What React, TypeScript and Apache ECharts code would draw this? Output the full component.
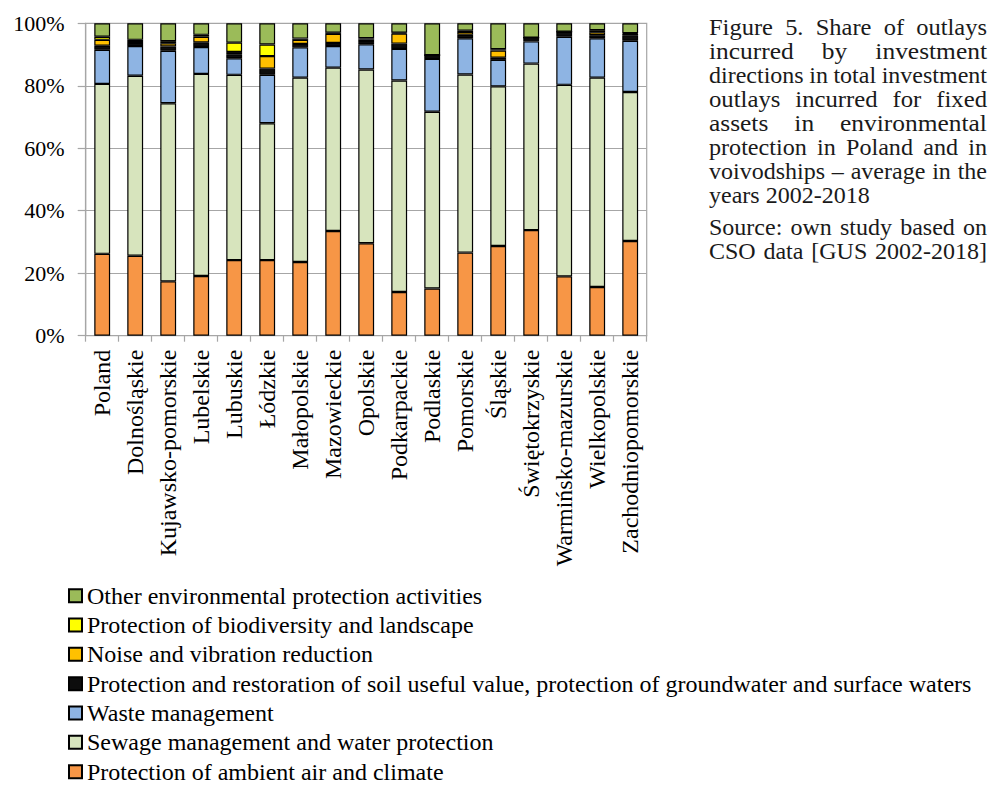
import React, { useEffect, useRef } from "react";
import * as echarts from "echarts";

// Voivodships (plus the national total) shown on the category axis
const categories = [
  "Poland",
  "Dolnośląskie",
  "Kujawsko-pomorskie",
  "Lubelskie",
  "Lubuskie",
  "Łódzkie",
  "Małopolskie",
  "Mazowieckie",
  "Opolskie",
  "Podkarpackie",
  "Podlaskie",
  "Pomorskie",
  "Śląskie",
  "Świętokrzyskie",
  "Warmińsko-mazurskie",
  "Wielkopolskie",
  "Zachodniopomorskie",
];

// Share (%) of each investment direction, bottom of the stack first
const airClimate = [26.2, 25.6, 17.4, 19.1, 24.2, 24.2, 23.6, 33.5, 29.6, 14.0, 15.1, 26.6, 28.7, 33.8, 19.0, 15.6, 30.3];
const sewageWater = [54.4, 57.6, 57.0, 64.7, 59.3, 43.8, 59.0, 52.3, 55.6, 67.7, 56.6, 57.0, 51.1, 53.3, 61.3, 67.0, 47.7];
const wasteManagement = [10.9, 9.5, 16.8, 8.6, 5.3, 15.5, 9.7, 6.9, 8.1, 10.1, 16.9, 11.6, 8.5, 7.1, 15.4, 12.6, 16.4];
const soilGroundwater = [1.3, 1.0, 1.4, 1.5, 1.3, 2.0, 1.1, 1.0, 0.7, 1.7, 1.2, 1.1, 0.7, 1.2, 1.6, 1.0, 1.8];
const noiseVibration = [1.9, 0.6, 1.0, 1.8, 0.7, 4.0, 1.3, 2.9, 0.8, 3.2, 0.0, 0.9, 2.3, 0.0, 0.0, 0.9, 0.4];
const biodiversity = [1.0, 0.4, 0.7, 0.6, 3.0, 3.7, 0.4, 0.4, 0.4, 0.3, 0.0, 0.4, 0.4, 0.0, 0.0, 0.7, 0.2];
const otherActivities = [4.3, 5.3, 5.7, 3.7, 6.2, 6.8, 4.9, 3.0, 4.8, 3.0, 10.2, 2.4, 8.3, 4.6, 2.7, 2.2, 3.2];

const seriesNames = [
  "Protection of ambient air and climate",
  "Sewage management and water protection",
  "Waste management",
  "Protection and restoration of soil useful value, protection of groundwater and surface waters",
  "Noise and vibration reduction",
  "Protection of biodiversity and landscape",
  "Other environmental protection activities",
];

// Value axis ticks
const yMin = 0;
const yMax = 100;
const yStep = 20;

// Caption printed beside the plot
const captionLines = [
  "Figure 5. Share of outlays",
  "incurred by investment",
  "directions in total investment",
  "outlays incurred for fixed",
  "assets in environmental",
  "protection in Poland and in",
  "voivodships – average in the",
  "years 2002-2018",
];
const sourceLines = ["Source: own study based on", "CSO data [GUS 2002-2018]"];

const FONT = '"Liberation Serif", "Times New Roman", serif';
const COLORS = ["#F79646", "#D7E4BD", "#8EB4E3", "#0D0D0D", "#FFC000", "#FFFF00", "#9BBB59"];

type Placed = { text: string; x: number; scaleX: number };

// Justify a line by spreading its words across the given width
function layoutLine(
  ctx: CanvasRenderingContext2D,
  line: string,
  x0: number,
  width: number,
  justify: boolean
): Placed[] {
  const words = line.split(" ");
  const widths = words.map((w) => ctx.measureText(w).width);
  const sum = widths.reduce((a, b) => a + b, 0);
  const space = ctx.measureText(" ").width;
  const gaps = words.length - 1;
  let scale = 1;
  let gap = space;
  if (justify && gaps > 0) {
    gap = (width - sum) / gaps;
    if (gap < 2.5) {
      gap = 2.5;
      scale = (width - gap * gaps) / sum;
    } else if (gap > space * 1.6) {
      scale = Math.min(1.06, 1 + ((gap - space * 1.6) * gaps * 0.3) / sum);
      gap = (width - sum * scale) / gaps;
    }
  }
  const out: Placed[] = [];
  let x = x0;
  words.forEach((w, i) => {
    out.push({ text: w, x, scaleX: scale });
    x += widths[i] * scale + gap;
  });
  return out;
}

export default function App() {
  const ref = useRef<HTMLDivElement>(null);

  useEffect(() => {
    if (!ref.current) return;
    const chart = echarts.init(ref.current, null, { renderer: "svg" });

    const canvas = document.createElement("canvas");
    const ctx = canvas.getContext("2d") as CanvasRenderingContext2D;
    const capSize = 24;
    ctx.font = `${capSize}px ${FONT}`;
    const capLeft = 709;
    const capWidth = 278;

    const graphic: any[] = [];
    const addLines = (lines: string[], baselines: number[], lastFree: boolean) => {
      lines.forEach((line, i) => {
        const justify = !(lastFree && i === lines.length - 1);
        const placed = layoutLine(ctx, line, capLeft, capWidth, justify);
        placed.forEach((p) => {
          graphic.push({
            type: "text",
            x: p.x,
            y: baselines[i] - capSize * 0.33,
            scaleX: p.scaleX,
            silent: true,
            style: {
              text: p.text,
              fontSize: capSize,
              fontFamily: FONT,
              fill: "#1a1a1a",
              align: "left",
              verticalAlign: "middle",
            },
          });
        });
      });
    };
    addLines(
      captionLines,
      captionLines.map((_, i) => 35 + 24 * i),
      true
    );
    addLines(sourceLines, [235, 259], false);

    const data = [
      airClimate,
      sewageWater,
      wasteManagement,
      soilGroundwater,
      noiseVibration,
      biodiversity,
      otherActivities,
    ];

    const gridGray = "#A6A6A6";

    chart.setOption({
      animation: false,
      backgroundColor: "#ffffff",
      grid: {
        left: 85.7,
        right: 342.3,
        top: 23.3,
        bottom: 449.3,
        show: true,
        borderColor: gridGray,
        borderWidth: 1.2,
      },
      legend: {
        orient: "vertical",
        left: 63,
        top: 578.7,
        height: 230,
        itemWidth: 13,
        itemHeight: 13,
        itemGap: 5.33,
        icon: "rect",
        selectedMode: false,
        data: [...seriesNames].reverse(),
        textStyle: { fontSize: 24, lineHeight: 24, fontFamily: FONT, color: "#000" },
      },
      xAxis: {
        type: "category",
        data: categories,
        axisLine: { lineStyle: { color: gridGray, width: 1.2 } },
        axisTick: { show: true, length: 6, lineStyle: { color: gridGray, width: 1.2 } },
        axisLabel: {
          interval: 0,
          rotate: 90,
          margin: 14,
          fontSize: 24,
          fontFamily: FONT,
          color: "#000",
        },
      },
      yAxis: {
        type: "value",
        min: yMin,
        max: yMax,
        interval: yStep,
        axisLine: { show: true, lineStyle: { color: gridGray, width: 1.2 } },
        axisTick: { show: true, length: 8, lineStyle: { color: gridGray, width: 1.2 } },
        splitLine: { lineStyle: { color: gridGray, width: 1.2 } },
        axisLabel: {
          formatter: "{value}%",
          margin: 21,
          fontSize: 22,
          fontFamily: FONT,
          color: "#000",
        },
      },
      series: seriesNames.map((name, i) => ({
        name,
        type: "bar",
        stack: "share",
        barWidth: "48%",
        data: data[i],
        itemStyle: { color: COLORS[i], borderColor: "#000", borderWidth: 1.2 },
      })),
      graphic,
    });

    return () => chart.dispose();
  }, []);

  return (
    <div
      ref={ref}
      style={{ position: "fixed", left: 0, top: 0, width: 989, height: 785, background: "#fff" }}
    />
  );
}
